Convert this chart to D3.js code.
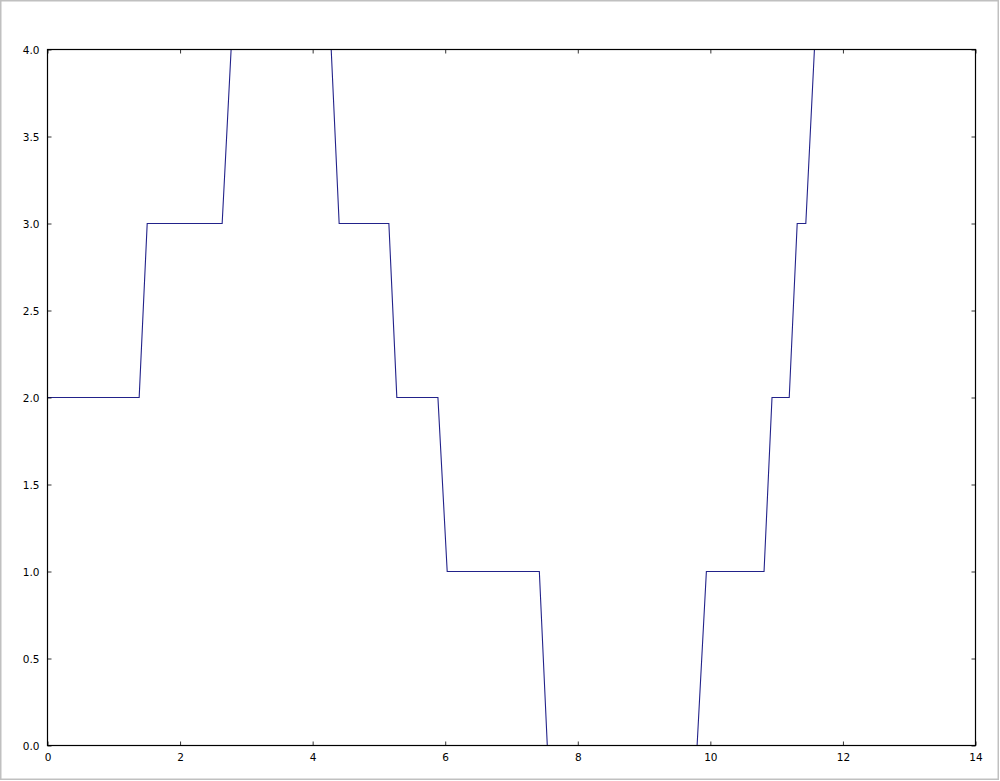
<!DOCTYPE html>
<html>
<head>
<meta charset="utf-8">
<script src="https://cdn.jsdelivr.net/npm/d3@7"></script>
<style>
html,body{margin:0;padding:0;background:#fff;}
svg{display:block;}
text{font-family:"DejaVu Sans",sans-serif;font-size:10.5px;fill:#000;}
</style>
</head>
<body>
<script>
// Corner points of the step-like line
const xValues = [0, 1.383, 1.504, 2.635, 2.77, 4.28, 4.40, 5.15, 5.27, 5.89, 6.03, 7.42, 7.54, 9.80, 9.94, 10.81, 10.93, 11.19, 11.31, 11.44, 11.57, 14];
const yValues = [2, 2, 3, 3, 4, 4, 3, 3, 2, 2, 1, 1, 0, 0, 1, 1, 2, 2, 3, 3, 4, 4];
const xTicks = [0, 2, 4, 6, 8, 10, 12, 14];
const yTicks = [0, 0.5, 1, 1.5, 2, 2.5, 3, 3.5, 4];

const W = 1000, H = 781;
const m = {left: 47.5, top: 49.5, right: 975.5, bottom: 745.5};

const svg = d3.select("body").append("svg").attr("width", W).attr("height", H);

svg.append("rect").attr("x", 0.75).attr("y", 0.75).attr("width", 997.5).attr("height", 778.5)
  .attr("fill", "#fff").attr("stroke", "#c0c0c0").attr("stroke-width", 1.5);

const x = d3.scaleLinear().domain([0, 14]).range([m.left, m.right]);
const y = d3.scaleLinear().domain([0, 4]).range([m.bottom, m.top]);

const pts = xValues.map((v, i) => [v, yValues[i]]);

svg.append("clipPath").attr("id", "clip").append("rect")
  .attr("x", m.left).attr("y", m.top).attr("width", m.right - m.left).attr("height", m.bottom - m.top);

svg.append("path").datum(pts)
  .attr("clip-path", "url(#clip)")
  .attr("fill", "none").attr("stroke", "#22228a").attr("stroke-width", 1.1)
  .attr("d", d3.line().x(d => x(d[0])).y(d => y(d[1])));

// axes (inward ticks on all sides)
const tl = 4;
const gB = svg.append("g").attr("transform", `translate(0,${m.bottom})`)
  .call(d3.axisBottom(x).tickValues(xTicks).tickSize(-tl).tickPadding(8).tickFormat(d3.format("d")));
const gT = svg.append("g").attr("transform", `translate(0,${m.top})`)
  .call(d3.axisTop(x).tickValues(xTicks).tickSize(-tl).tickFormat(""));
const gL = svg.append("g").attr("transform", `translate(${m.left},0)`)
  .call(d3.axisLeft(y).tickValues(yTicks).tickSize(-tl).tickPadding(8).tickFormat(d3.format(".1f")));
const gR = svg.append("g").attr("transform", `translate(${m.right},0)`)
  .call(d3.axisRight(y).tickValues(yTicks).tickSize(-tl).tickFormat(""));

[gB, gT, gL, gR].forEach(g => {
  g.select(".domain").remove();
  g.selectAll(".tick line").attr("stroke", "#000").attr("stroke-width", 0.8);
  g.selectAll("text").attr("font-family", "DejaVu Sans").attr("font-size", 10.5).attr("fill", "#000");
});
gL.selectAll("text").attr("dy", "0.36em");

svg.append("rect").attr("x", m.left).attr("y", m.top)
  .attr("width", m.right - m.left).attr("height", m.bottom - m.top)
  .attr("fill", "none").attr("stroke", "#000").attr("stroke-width", 1.2);
</script>
</body>
</html>
